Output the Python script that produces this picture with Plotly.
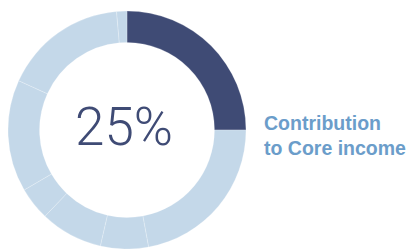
import plotly.graph_objects as go

segment_labels = ["Core", "s1", "s2", "s3", "s4", "s5", "s6", "s7"]
segment_values = [25, 22.1, 6.5, 8.5, 4.5, 15.2, 16.8, 1.4]
segment_colors = ["#3f4b75"] + ["#c4d8e9"] * 7
center_text = "25%"
side_text = "Contribution<br>to Core income"

W, H = 411, 249

fig = go.Figure(go.Pie(
    labels=segment_labels,
    values=segment_values,
    sort=False,
    direction="clockwise",
    rotation=0,
    hole=0.735,
    textinfo="none",
    hoverinfo="none",
    showlegend=False,
    marker=dict(colors=segment_colors, line=dict(color="rgba(255,255,255,0.45)", width=0.5)),
    domain=dict(x=[6 / W, 248 / W], y=[0, 1 - 11 / H]),
))

fig.add_annotation(
    text=center_text, x=123.5 / W, y=1 - 127 / H, xref="paper", yref="paper",
    xanchor="center", yanchor="middle", showarrow=False,
    font=dict(family="Roboto", size=53, color="#3f4b75", weight=300),
)
fig.add_annotation(
    text=side_text, x=262 / W, y=1 - 135.5 / H, xref="paper", yref="paper",
    xanchor="left", yanchor="middle", align="left", showarrow=False,
    font=dict(family="Liberation Sans", size=19.5, color="#6b9dca", weight="bold"),
)

fig.update_layout(
    width=W, height=H,
    margin=dict(l=0, r=0, t=0, b=0),
    paper_bgcolor="white", plot_bgcolor="white",
)

fig.write_html(
    "out.html",
    config={"displayModeBar": False},
    post_script="document.body.style.margin='0px';document.body.style.overflow='hidden';"
    "document.documentElement.style.overflow='hidden';",
)
